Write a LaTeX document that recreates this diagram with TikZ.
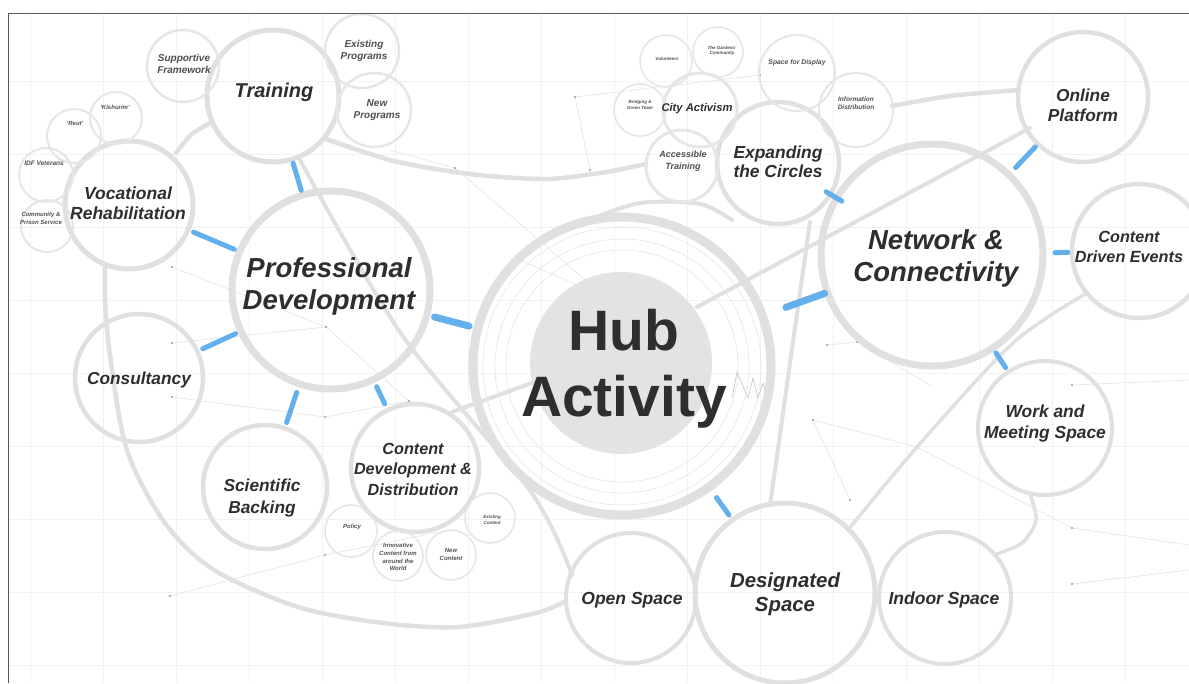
\documentclass[tikz,border=0pt]{standalone}
\usepackage{fontspec}
\setmainfont{Liberation Sans}
\definecolor{ringc}{HTML}{E0E0E0}
\definecolor{ringl}{HTML}{E6E6E6}
\definecolor{gridc}{HTML}{F2F2F2}
\definecolor{faintc}{HTML}{E4E4E4}
\definecolor{dotc}{HTML}{9A9A9A}
\definecolor{bluec}{RGB}{100,176,236}
\definecolor{txt}{HTML}{2E2E2E}
\definecolor{txtl}{HTML}{505050}
\definecolor{diskc}{HTML}{E3E3E3}
\newcommand\labf[2]{\bfseries\itshape\fontsize{#1}{#2}\selectfont}
\tikzset{
  bub/.style={circle, draw=ringc, inner sep=0pt, outer sep=0pt},
  sbub/.style={circle, draw=ringl, inner sep=0pt, outer sep=0pt},
  lab/.style={text=txt, align=center, inner sep=0pt},
  slab/.style={text=txtl, align=center, inner sep=0pt},
  conn/.style={draw=bluec, line width=5pt, line cap=round},
  band/.style={draw=ringc, line width=4.5pt, line cap=round},
  faintline/.style={draw=faintc, line width=0.6pt},
  gridline/.style={draw=gridc, line width=0.8pt},
}
\begin{document}
\begin{tikzpicture}[x=1pt,y=-1pt]
\useasboundingbox (0,0) rectangle (1189,683);
\fill[white] (0,0) rectangle (1189,683);
% grid
\foreach \gx in {30,103,...,1189} \draw[gridline] (\gx,13) -- (\gx,683);
\foreach \gy in {81,154,...,683} \draw[gridline] (8,\gy) -- (1189,\gy);
% faint network lines
\draw[faintline] (172,267) -- (326,327) -- (409,401);
\draw[faintline] (172,343) -- (326,327);
\draw[faintline] (172,397) -- (325,417) -- (409,401);
\draw[faintline] (170,596) -- (325,555) -- (450,530);
\draw[faintline] (390,150) -- (455,168) -- (605,297);
\draw[faintline] (575,97) -- (590,170);
\draw[faintline] (575,97) -- (760,75);
\draw[faintline] (520,260) -- (605,297);
\draw[faintline] (827,345) -- (857,342) -- (930,385);
\draw[faintline] (813,420) -- (917,447);
\draw[faintline] (917,447) -- (1072,528) -- (1189,545);
\draw[faintline] (1072,584) -- (1189,570);
\draw[faintline] (850,500) -- (813,420);
\draw[faintline] (1072,385) -- (1189,380);
\foreach \d in {(172,267),(326,327),(409,401),(172,343),(172,397),(325,417),(170,596),(325,555),(455,168),(605,297),(575,97),(590,170),(827,345),(857,342),(813,420),(917,447),(1072,528),(1072,584),(850,500),(1072,385),(520,260),(760,75)}
  \fill[dotc] \d circle (1.1);
% hub interior decoration
\foreach \rr in {139,127,116} \draw[ringl, line width=0.6pt] (622,366) circle (\rr);
\fill[diskc] (621,363) circle (91);
\draw[dotc!60, line width=0.6pt] (732,398) -- (737,372) -- (748,398) -- (753,378) -- (758,398) -- (763,383) -- (767,398);
% thick grey curves
\draw[band] plot[smooth] coordinates {(105,266) (107,330) (126,447) (165,523) (214,570) (298,607) (383,623) (459,627) (536,613) (566,601)};
\draw[band] plot[smooth] coordinates {(176,153) (192,134) (212,122)};
\draw[band] plot[smooth] coordinates {(326,139) (394,161) (470,174) (546,179) (606,172) (646,164)};
\draw[band] plot[smooth] coordinates {(892,106) (950,96) (1019,90)};
\draw[band, line width=4pt] plot[smooth] coordinates {(586,221) (640,203) (700,204) (732,220)};
\draw[band, line width=4pt] (697,307) -- (1030,128);
\draw[band, line width=4pt] (452,412) -- (540,380);
\draw[band, line width=4pt] plot[smooth] coordinates {(300,160) (402,335) (531,492) (572,575)};
\draw[band, line width=4pt] (810,222) -- (770,505);
\draw[band, line width=3.5pt] plot[smooth] coordinates {(1087,293) (1013,343) (917,447) (848,530)};
\draw[band, line width=3.5pt] plot[smooth] coordinates {(1030,494) (1036,520) (1022,543) (994,555)};
% circles
\node[bub, line width=9pt, minimum size=298pt] (hub) at (622,366) {};
\node[bub, line width=7pt, minimum size=198pt] (pd) at (331,290) {};
\node[bub, line width=7pt, minimum size=222pt] (net) at (932,255) {};
\node[bub, line width=5pt, minimum size=132pt] (train) at (273,96) {};
\node[bub, line width=5pt, minimum size=128pt] (vocat) at (129,205) {};
\node[bub, line width=4.5pt, minimum size=128pt] (consult) at (139,378) {};
\node[bub, line width=4.5pt, minimum size=124pt] (sci) at (265,487) {};
\node[bub, line width=4.5pt, minimum size=128pt] (cdev) at (415,468) {};
\node[bub, line width=4.5pt, minimum size=122pt] (expand) at (778,163) {};
\node[bub, line width=4.5pt, minimum size=130pt] (online) at (1083,97) {};
\node[bub, line width=4.5pt, minimum size=134pt] (cde) at (1139,251) {};
\node[bub, line width=4pt, minimum size=134pt] (work) at (1045,428) {};
\node[bub, line width=5pt, minimum size=180pt] (desig) at (785,593) {};
\node[bub, line width=4pt, minimum size=130pt] (open) at (631,598) {};
\node[bub, line width=4pt, minimum size=132pt] (indoor) at (945,598) {};
\node[sbub, line width=3pt, minimum size=74pt] (city) at (700,110) {};
\node[sbub, line width=3pt, minimum size=72pt] (access) at (682,166) {};
\node[sbub, line width=2.5pt, minimum size=72pt] (support) at (183,66) {};
\node[sbub, line width=2.5pt, minimum size=74pt] (exist) at (362,51) {};
\node[sbub, line width=2.5pt, minimum size=74pt] (newprog) at (374,110) {};
\node[sbub, line width=2pt, minimum size=52pt] (kish) at (116,118) {};
\node[sbub, line width=2pt, minimum size=54pt] (reut) at (74,136) {};
\node[sbub, line width=2pt, minimum size=54pt] (idf) at (46,175) {};
\node[sbub, line width=2pt, minimum size=52pt] (comm) at (47,226) {};
\node[sbub, line width=1.6pt, minimum size=52pt] (volun) at (666,61) {};
\node[sbub, line width=1.6pt, minimum size=50pt] (garden) at (718,52) {};
\node[sbub, line width=1.6pt, minimum size=52pt] (bridg) at (640,110) {};
\node[sbub, line width=2pt, minimum size=76pt] (space) at (797,73) {};
\node[sbub, line width=2pt, minimum size=74pt] (info) at (856,110) {};
\node[sbub, line width=1.6pt, minimum size=52pt] (policy) at (351,531) {};
\node[sbub, line width=1.6pt, minimum size=50pt] (innov) at (398,556) {};
\node[sbub, line width=1.6pt, minimum size=50pt] (newc) at (451,555) {};
\node[sbub, line width=1.6pt, minimum size=50pt] (exc) at (490,518) {};
% blue connectors
\draw[conn, shorten <=4pt, shorten >=5pt] (train) -- (pd);
\draw[conn, shorten <=6pt, shorten >=6pt] (vocat) -- (pd);
\draw[conn, shorten <=6pt, shorten >=6pt] (consult) -- (pd);
\draw[conn, shorten <=6pt, shorten >=9pt] (sci) -- (pd);
\draw[conn, shorten <=7pt, shorten >=8pt] (cdev) -- (pd);
\draw[conn, line width=7pt, shorten <=8pt, shorten >=9pt] (pd) -- (hub);
\draw[conn, line width=7pt, shorten <=25pt, shorten >=3pt] (hub) -- (net);
\draw[conn, shorten <=-5pt, shorten >=-6pt] (expand) -- (net);
\draw[conn, shorten <=4pt, shorten >=10pt] (online) -- (net);
\draw[conn, shorten <=4pt, shorten >=12pt] (cde) -- (net);
\draw[conn, shorten <=5pt, shorten >=6pt] (work) -- (net);
\draw[conn, shorten <=13pt, shorten >=6pt] (hub) -- (desig);
% frame
\draw[black!65, line width=0.9pt] (8,683) -- (8,13) -- (1189,13);
% labels
\node[text=txt, align=center, inner sep=0pt, font=\bfseries\fontsize{57}{66}\selectfont] (thub) at (624,369) {Hub\\Activity};
\node[lab, font=\labf{27.5}{32}] (tpd) at (329,286) {Professional\\Development};
\node[lab, font=\labf{27.5}{32}] (tnet) at (936,258) {Network \&\\Connectivity};
\node[lab, font=\labf{20}{24}] (ttrain) at (274,92) {Training};
\node[lab, font=\labf{17.5}{20}] (tvocat) at (128,203) {Vocational\\Rehabilitation};
\node[lab, font=\labf{17.3}{20}] (tconsult) at (139,380) {Consultancy};
\node[lab, font=\labf{17.3}{22}] (tsci) at (262,498) {Scientific\\Backing};
\node[lab, font=\labf{16.2}{20.5}] (tcdev) at (413,469) {Content\\Development \&\\Distribution};
\node[lab, font=\labf{17.4}{19.5}] (texpand) at (778,162) {Expanding\\the Circles};
\node[lab, font=\labf{17.3}{20}] (tonline) at (1083,105) {Online\\Platform};
\node[lab, font=\labf{16.2}{20}] (tcde) at (1129,247) {Content\\Driven Events};
\node[lab, font=\labf{17.4}{21}] (twork) at (1045,423) {Work and\\Meeting Space};
\node[lab, font=\labf{20.4}{24}] (tdesig) at (785,594) {Designated\\Space};
\node[lab, font=\labf{17.5}{20}] (topen) at (632,600) {Open Space};
\node[lab, font=\labf{17.5}{20}] (tindoor) at (944,600) {Indoor Space};
\node[lab, font=\labf{11.2}{13}] (tcity) at (697,109) {City Activism};
\node[slab, font=\labf{9}{12}] (taccess) at (683,161) {Accessible\\Training};
\node[slab, font=\labf{10}{11.5}] (tsupport) at (184,64) {Supportive\\Framework};
\node[slab, font=\labf{10}{11.5}] (texist) at (364,51) {Existing\\Programs};
\node[slab, font=\labf{10}{11.5}] (tnewprog) at (377,110) {New\\Programs};
\node[slab, font=\labf{6}{7}] (tkish) at (115,107) {'Kishurim'};
\node[slab, font=\labf{6}{7}] (treut) at (75,123) {'Reut'};
\node[slab, font=\labf{6.5}{7.5}] (tidf) at (44,163) {IDF Veterans};
\node[slab, font=\labf{6}{8}] (tcomm) at (41,218) {Community \&\\Prison Service};
\node[slab, font=\labf{4.5}{5.5}] (tvolun) at (667,59) {Volunteers};
\node[slab, font=\labf{4.5}{5.5}] (tgarden) at (722,51) {The Gardens'\\Community};
\node[slab, font=\labf{4.5}{5.5}] (tbridg) at (640,105) {Bridging \&\\Green Team};
\node[slab, font=\labf{6.8}{8}] (tspace) at (797,63) {Space for Display};
\node[slab, font=\labf{6.5}{8}] (tinfo) at (856,103) {Information\\Distribution};
\node[slab, font=\labf{6}{7}] (tpolicy) at (352,527) {Policy};
\node[slab, font=\labf{6}{7.8}] (tinnov) at (398,557) {Innovative\\Content from\\around the\\World};
\node[slab, font=\labf{6}{8}] (tnewc) at (451,554) {New\\Content};
\node[slab, font=\labf{4.5}{5.5}] (texc) at (492,520) {Existing\\Content};
\end{tikzpicture}
\end{document}
